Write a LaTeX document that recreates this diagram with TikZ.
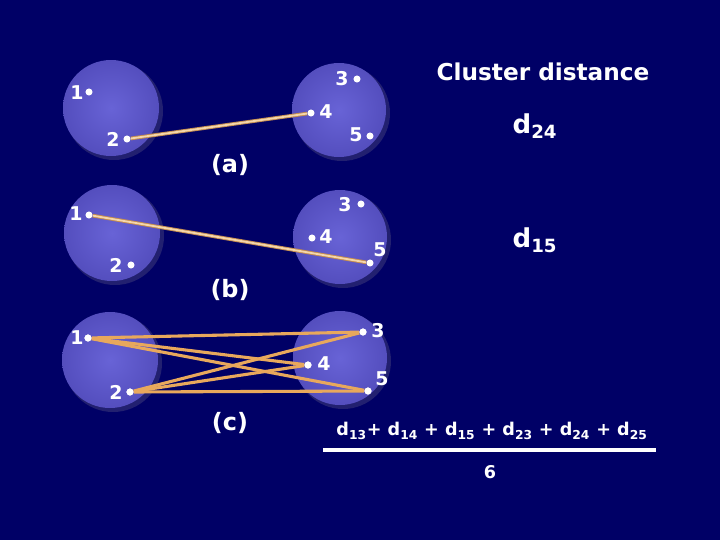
\documentclass[tikz,border=0pt]{standalone}
\usepackage{fontspec}
\setmainfont{DejaVu Sans}
\usetikzlibrary{positioning}

\definecolor{navy}{RGB}{0,0,102}
\definecolor{blobin}{RGB}{104,99,214}
\definecolor{blobout}{RGB}{84,78,190}
\definecolor{blobshadow}{RGB}{34,32,112}
\definecolor{linkedge}{RGB}{196,140,80}
\definecolor{linkfill}{RGB}{244,214,170}
\definecolor{linkorange}{RGB}{232,168,92}

\tikzset{
  dot/.style={circle,fill=white,inner sep=0pt,minimum size=5pt},
  num/.style={text=white,inner sep=1pt,font=\bfseries\fontsize{13.5}{14}\selectfont},
  panel/.style={text=white,font=\bfseries\fontsize{17}{19}\selectfont},
  dist/.style={text=white,font=\bfseries\fontsize{18.5}{20}\selectfont},
  sumtxt/.style={text=white,font=\bfseries\fontsize{12.5}{14}\selectfont},
  link/.style={line width=2.6pt,linkedge},
  linkin/.style={line width=1.3pt,linkfill},
  xlink/.style={line width=2.2pt,linkorange}
}

\begin{document}
\begin{tikzpicture}[x=0.025cm,y=-0.025cm]
\fill[navy] (0,0) rectangle (720,540);

% clusters
\fill[blobshadow] (114,111) circle (49);
\fill[blobshadow] (342,113) circle (48);
\shade[inner color=blobin,outer color=blobout] (111,108) circle (48);
\shade[inner color=blobin,outer color=blobout] (339,110) circle (47);
\fill[blobshadow] (115,236) circle (49);
\fill[blobshadow] (343,240) circle (48);
\shade[inner color=blobin,outer color=blobout] (112,233) circle (48);
\shade[inner color=blobin,outer color=blobout] (340,237) circle (47);
\fill[blobshadow] (113,363) circle (49);
\fill[blobshadow] (343,361) circle (48);
\shade[inner color=blobin,outer color=blobout] (110,360) circle (48);
\shade[inner color=blobin,outer color=blobout] (340,358) circle (47);

% (a)
\node[dot] (a1) at (89,92) {};
\node[dot] (a2) at (127,139) {};
\node[dot] (a3) at (357,79) {};
\node[dot] (a4) at (311,113) {};
\node[dot] (a5) at (370,136) {};
\node[num] (la1) at (77,93) {1};
\node[num] (la2) at (113,139) {2};
\node[num] (la3) at (342,79) {3};
\node[num] (la4) at (326,112) {4};
\node[num] (la5) at (356,135) {5};
\draw[link] (a2) -- (a4);
\draw[linkin] (a2) -- (a4);
\node[panel] (pa) at (230,165) {(a)};

% (b)
\node[dot] (b1) at (89,215) {};
\node[dot] (b2) at (131,265) {};
\node[dot] (b3) at (361,204) {};
\node[dot] (b4) at (312,238) {};
\node[dot] (b5) at (370,263) {};
\node[num] (lb1) at (76,214) {1};
\node[num] (lb2) at (116,265) {2};
\node[num] (lb3) at (345,205) {3};
\node[num] (lb4) at (326,237) {4};
\node[num] (lb5) at (380,250) {5};
\draw[link] (b1) -- (b5);
\draw[linkin] (b1) -- (b5);
\node[panel] (pb) at (230,290) {(b)};

% (c)
\node[dot] (c1) at (88,338) {};
\node[dot] (c2) at (130,392) {};
\node[dot] (c3) at (363,332) {};
\node[dot] (c4) at (308,365) {};
\node[dot] (c5) at (368,391) {};
\node[num] (lc1) at (77,338) {1};
\node[num] (lc2) at (116,392) {2};
\node[num] (lc3) at (378,331) {3};
\node[num] (lc4) at (324,364) {4};
\node[num] (lc5) at (382,379) {5};
\draw[xlink] (c1) -- (c3);
\draw[xlink] (c1) -- (c4);
\draw[xlink] (c1) -- (c5);
\draw[xlink] (c2) -- (c3);
\draw[xlink] (c2) -- (c4);
\draw[xlink] (c2) -- (c5);
\node[dot] at (c1) {};
\node[dot] at (c2) {};
\node[dot] at (c3) {};
\node[dot] at (c4) {};
\node[dot] at (c5) {};
\node[panel] (pc) at (230,423) {(c)};

% right side
\node[text=white,font=\bfseries\fontsize{16.5}{18}\selectfont] (title) at (543,72) {Cluster distance};
\node[dist] (d24) at (535,126) {d\textsubscript{24}};
\node[dist] (d15) at (535,240) {d\textsubscript{15}};
\node[sumtxt] (num) at (492,431) {d\textsubscript{13}+ d\textsubscript{14} + d\textsubscript{15} + d\textsubscript{23} + d\textsubscript{24} + d\textsubscript{25}};
\coordinate (barl) at (323,450);
\coordinate (barr) at (656,450);
\draw[white,line width=2.2pt] (barl) -- (barr);
\node[sumtxt] (den) at (490,472) {6};
\end{tikzpicture}
\end{document}
